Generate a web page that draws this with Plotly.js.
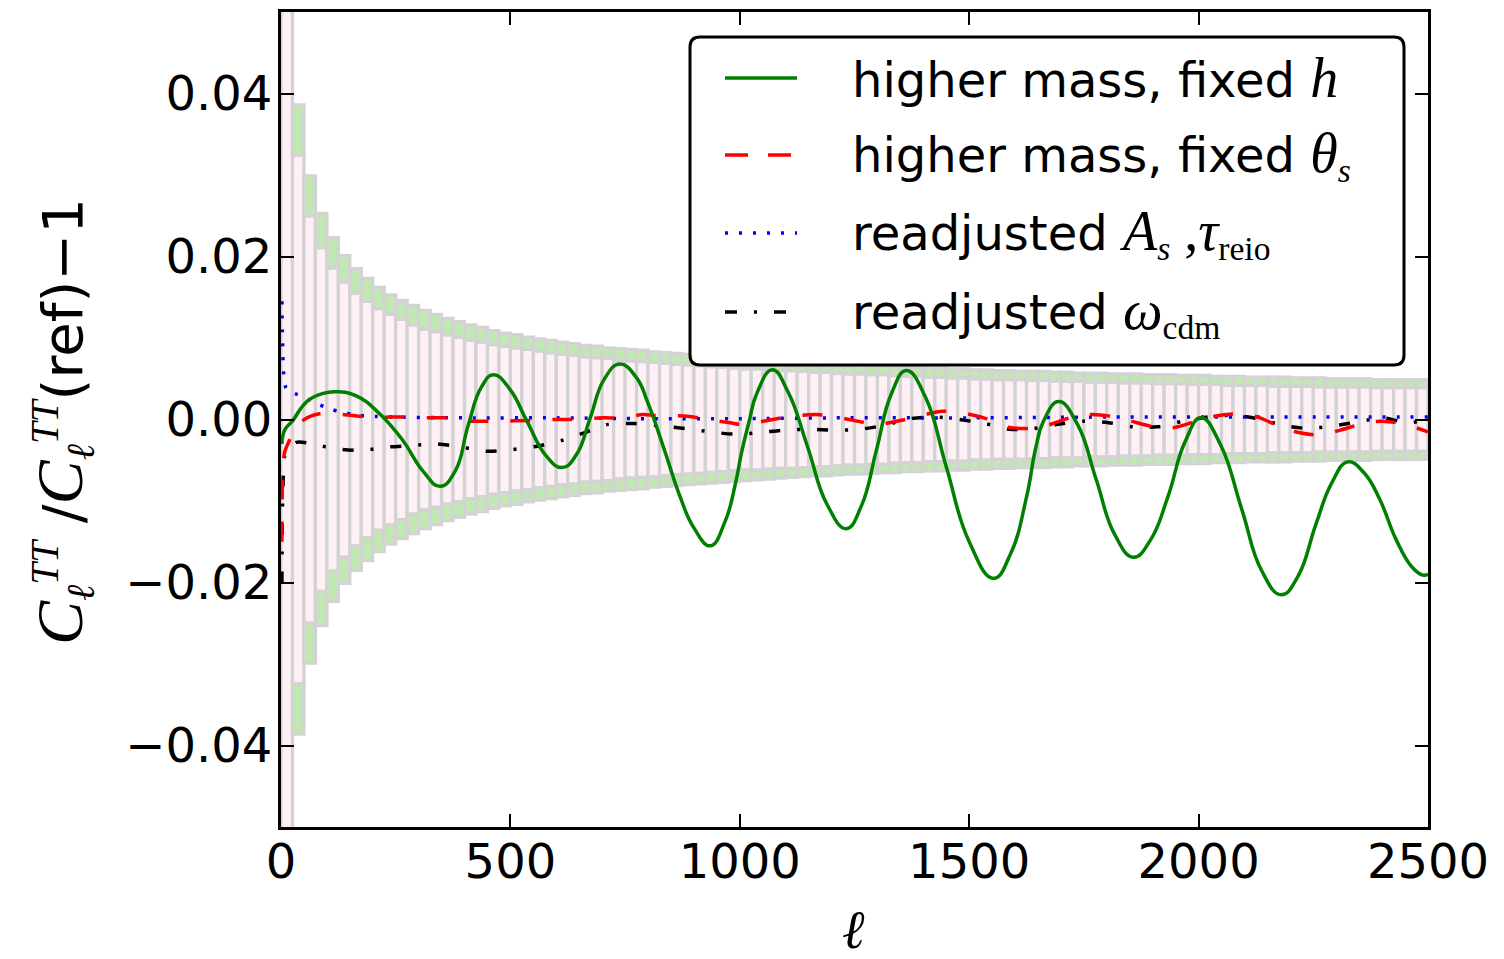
<!DOCTYPE html>
<html><head><meta charset="utf-8">
<script src="https://cdn.plot.ly/plotly-3.0.1.min.js"></script>
<style>html,body{margin:0;padding:0;background:#fff;} #chart{width:1504px;height:959px;}</style>
</head><body><div id="chart"></div>
<script>
// ---- data ----
const binWidth = 25;
// outer (total) error per 25-wide ell bin, bins starting at ell = 0
const outerErr = [0.110,0.0386,0.0299,0.0253,0.0223,0.0201,0.0185,0.0173,0.0162,0.0153,
0.0146,0.0140,0.0134,0.0129,0.0124,0.0120,0.0116,0.0113,0.0109,0.0106,
0.0104,0.0101,0.0099,0.0097,0.0095,0.0093,0.0091,0.0090,0.0088,0.0087,
0.0086,0.0085,0.0083,0.0082,0.0081,0.0080,0.0079,0.0078,0.0077,0.0076,
0.0075,0.0074,0.0073,0.0072,0.0071,0.0070,0.0069,0.0069,0.0068,0.0067,
0.0067,0.0066,0.0065,0.0065,0.0064,0.0064,0.0063,0.0063,0.0062,0.0062,
0.0061,0.0061,0.0060,0.0060,0.0059,0.0059,0.0059,0.0058,0.0058,0.0057,
0.0057,0.0057,0.0056,0.0056,0.0056,0.0055,0.0055,0.0055,0.0054,0.0054,
0.0054,0.0053,0.0053,0.0053,0.0052,0.0052,0.0052,0.0052,0.0051,0.0051,
0.0051,0.0050,0.0050,0.0050,0.0050,0.0049,0.0049,0.0049,0.0049,0.0049];
// inner error per bin
const innerErr = [0.100,0.0324,0.0250,0.0211,0.0186,0.0169,0.0155,0.0145,0.0136,0.0129,
0.0123,0.0116,0.0111,0.0108,0.0104,0.0101,0.0097,0.0095,0.0092,0.0090,
0.0088,0.0086,0.0084,0.0082,0.0080,0.0079,0.0077,0.0076,0.0075,0.0073,
0.0072,0.0071,0.0070,0.0069,0.0068,0.0067,0.0066,0.0065,0.0064,0.0063,
0.0062,0.0062,0.0061,0.0060,0.0060,0.0059,0.0058,0.0058,0.0057,0.0056,
0.0056,0.0055,0.0055,0.0054,0.0053,0.0053,0.0052,0.0052,0.0051,0.0051,
0.0050,0.0050,0.0049,0.0049,0.0049,0.0048,0.0048,0.0047,0.0047,0.0047,
0.0046,0.0046,0.0046,0.0045,0.0045,0.0045,0.0044,0.0044,0.0044,0.0043,
0.0043,0.0043,0.0042,0.0042,0.0042,0.0042,0.0041,0.0041,0.0041,0.0041,
0.0040,0.0040,0.0040,0.0040,0.0040,0.0039,0.0039,0.0039,0.0039,0.0039];

const greenL = [2,8,26,48,69,116,164,215,266,309,347,380,408,437,463,499,536,577,613,644,
674,704,738,774,800,836,870,900,936,968,990,1004,1020,1037,1071,1105,1148,1190,1232,1265,
1298,1330,1363,1405,1450,1500,1553,1590,1625,1645,1662,1695,1736,1777,1817,1858,1895,1933,1970,2005,
2047,2094,2137,2180,2216,2256,2290,2325,2360,2394,2431,2465,2489,2500];
const greenY = [-0.0030,-0.0013,-0.0001,0.0017,0.0027,0.0034,0.0029,0.0007,-0.0026,-0.0063,
-0.0082,-0.0063,-0.0007,0.0040,0.0055,0.0037,-0.0002,-0.0044,-0.0059,-0.0043,
0.0002,0.0049,0.0068,0.0052,0.0020,-0.0038,-0.0095,-0.0133,-0.0155,-0.0125,
-0.0080,-0.0040,-0.0003,0.0032,0.0061,0.0034,-0.0034,-0.0104,-0.0134,-0.0106,
-0.0037,0.0031,0.0060,0.0027,-0.0058,-0.0150,-0.0195,-0.0165,-0.0095,-0.0035,
-0.0002,0.0022,-0.0006,-0.0074,-0.0141,-0.0169,-0.0148,-0.0095,-0.0028,0.0002,
-0.0030,-0.0110,-0.0185,-0.0215,-0.0193,-0.0128,-0.0078,-0.0052,-0.0065,-0.0097,
-0.0148,-0.0181,-0.0191,-0.0190];

const redL = [2,4,8,18,30,48,84,135,193,266,324,360,411,469,550,600,629,701,745,789,
814,840,886,930,979,1000,1023,1072,1115,1167,1210,1257,1300,1352,1395,1442,1485,1537,1581,1631,
1671,1719,1762,1809,1853,1902,1945,1995,2035,2085,2129,2175,2218,2265,2309,2358,2401,2449,2500];
const redY = [-0.0150,-0.0060,-0.0040,-0.0026,-0.0012,-0.0001,0.0007,0.0006,0.0003,0.0003,
0.0002,0.0002,-0.0002,-0.0002,-0.0001,0.0000,0.0000,0.0002,0.0002,0.0006,
0.0005,0.0005,0.0004,0.0000,-0.0004,-0.0006,-0.0005,0.0000,0.0004,0.0006,
0.0003,-0.0002,-0.0006,-0.0001,0.0005,0.0010,0.0008,0.0001,-0.0009,-0.0011,
-0.0007,0.0002,0.0006,0.0004,-0.0002,-0.0009,-0.0010,-0.0002,0.0004,0.0007,
0.0003,-0.0008,-0.0016,-0.0019,-0.0013,-0.0005,-0.0002,-0.0006,-0.0015];

const blueL = [2,3,4,6,9,13,44,73,102,131,160,193,250,400,600,800,1000,1200,1500,1800,2100,2500];
const blueY = [0.0145,0.0110,0.0080,0.0055,0.0042,0.0036,0.0029,0.0021,0.0014,0.0009,
0.0006,0.0004,0.0003,0.0002,0.0002,0.0001,0.0001,0.0002,0.0002,0.0003,0.0003,0.0003];

const blackL = [2,3,5,8,18,33,62,77,120,175,229,284,338,395,447,502,556,611,662,712,
770,830,880,934,988,1043,1097,1152,1206,1261,1316,1370,1425,1479,1534,1588,1640,1693,1749,1804,
1857,1911,1967,2020,2075,2129,2184,2238,2292,2347,2401,2456,2500];
const blackY = [-0.0200,-0.0120,-0.0070,-0.0045,-0.0035,-0.0028,-0.0029,-0.0031,-0.0036,-0.0038,
-0.0034,-0.0032,-0.0030,-0.0034,-0.0039,-0.0037,-0.0033,-0.0026,-0.0016,-0.0006,
-0.0005,-0.0008,-0.0011,-0.0015,-0.0018,-0.0016,-0.0013,-0.0012,-0.0013,-0.0012,
-0.0007,0.0001,0.0003,0.0000,-0.0005,-0.0012,-0.0011,-0.0006,-0.0002,-0.0004,
-0.0009,-0.0009,-0.0002,0.0003,0.0005,0.0001,-0.0007,-0.0011,-0.0008,-0.0003,
0.0002,-0.0004,0.0000];

const SERIF = 'font-family:Liberation Serif;font-size:56px';
const legendLabels = [
  'higher mass, fixed <span style="' + SERIF + '"><i>h</i></span>',
  'higher mass, fixed <span style="' + SERIF + '"><i>θ</i></span><sub><span style="font-family:Liberation Serif"><i>s</i></span></sub>',
  'readjusted <span style="' + SERIF + '"><i>A</i></span><sub><span style="font-family:Liberation Serif"><i>s</i></span></sub><span style="' + SERIF + '"> ,<i>τ</i></span><sub><span style="font-family:Liberation Serif">reio</span></sub>',
  'readjusted <span style="' + SERIF + '"><i>ω</i></span><sub><span style="font-family:Liberation Serif">cdm</span></sub>'
];
const xTicks = [0,500,1000,1500,2000,2500];
const yTicks = [-0.04,-0.02,0,0.02,0.04];

// ---- geometry helpers (layout only) ----
const L = 281, R = 1428, T = 12, B = 827;
const W = 1504, H = 959;
const px = x => (x - L) / (R - L);
const py = y => (B - y) / (B - T);

const centers = outerErr.map((_, i) => binWidth * i + binWidth / 2);
const PINK = '#fff0f5', LGREEN = '#c1e8b2', GREY = '#d3d3d3';

const traces = [
  {type:'bar', x:centers, y:innerErr.map(v=>2*v), base:innerErr.map(v=>-v), width:binWidth,
   marker:{color:PINK, line:{color:GREY, width:3.3}}, hoverinfo:'skip', showlegend:false},
  {type:'bar', x:centers, y:outerErr.map((v,i)=>v-innerErr[i]), base:innerErr, width:binWidth,
   marker:{color:LGREEN, line:{color:GREY, width:3.3}}, hoverinfo:'skip', showlegend:false},
  {type:'bar', x:centers, y:outerErr.map((v,i)=>v-innerErr[i]), base:outerErr.map(v=>-v), width:binWidth,
   marker:{color:LGREEN, line:{color:GREY, width:3.3}}, hoverinfo:'skip', showlegend:false},
  {type:'scatter', mode:'lines', x:blackL, y:blackY, line:{color:'black', width:3.5, dash:'11px,17px,3px,17px', shape:'spline', smoothing:0.8}, showlegend:false},
  {type:'scatter', mode:'lines', x:blueL, y:blueY, line:{color:'blue', width:3.5, dash:'3px,11px', shape:'spline', smoothing:0.8}, showlegend:false},
  {type:'scatter', mode:'lines', x:redL, y:redY, line:{color:'red', width:3.5, dash:'20px,22px', shape:'spline', smoothing:0.8}, showlegend:false},
  {type:'scatter', mode:'lines', x:greenL, y:greenY, line:{color:'green', width:3.5, shape:'spline', smoothing:1.3}, showlegend:false}
];

// legend box (rounded)
const lx0 = px(690), lx1 = px(1404), ly0 = py(365), ly1 = py(37);
const rx = 10/(R-L), ry = 10/(B-T);
const boxPath = `M ${lx0+rx},${ly1} L ${lx1-rx},${ly1} Q ${lx1},${ly1} ${lx1},${ly1-ry} L ${lx1},${ly0+ry} Q ${lx1},${ly0} ${lx1-rx},${ly0} L ${lx0+rx},${ly0} Q ${lx0},${ly0} ${lx0},${ly0+ry} L ${lx0},${ly1-ry} Q ${lx0},${ly1} ${lx0+rx},${ly1} Z`;
const rowY = [78, 155, 233, 312];
const sample = [
  {color:'green', dash:'solid'},
  {color:'red', dash:'23px,20px'},
  {color:'blue', dash:'3px,11px'},
  {color:'black', dash:'12px,17px,3px,17px'}
];
const shapes = [
  {type:'path', xref:'paper', yref:'paper', path:boxPath, fillcolor:'white', line:{color:'black', width:3}, layer:'above'}
];
sample.forEach((s,i)=>{
  shapes.push({type:'line', xref:'paper', yref:'paper', x0:px(725), x1:px(797), y0:py(rowY[i]), y1:py(rowY[i]),
    line:{color:s.color, width:3.5, dash:s.dash}, layer:'above'});
});

const annotations = legendLabels.map((t,i)=>({
  text:t, xref:'paper', yref:'paper', x:px(850), y:py(rowY[i]), xanchor:'left', yanchor:'middle',
  showarrow:false, font:{family:'DejaVu Sans', size:48, color:'black'}
}));
const CS = 'font-family:Liberation Serif;font-size:66px';
annotations.push({
  text:'<span style="' + CS + '"><i>C</i></span><sub><span style="font-family:Liberation Serif"><i>ℓ</i></span></sub><sup><span style="font-family:Liberation Serif"><i>TT</i></span></sup> /<span style="' + CS + '"><i>C</i></span><sub><span style="font-family:Liberation Serif"><i>ℓ</i></span></sub><sup><span style="font-family:Liberation Serif"><i>TT</i></span></sup>(ref)−1',
  xref:'paper', yref:'paper', x:px(62), y:py(422), xanchor:'center', yanchor:'middle', textangle:-90,
  showarrow:false, font:{family:'DejaVu Sans', size:56, color:'black'}
});
annotations.push({
  text:'<i>ℓ</i>', xref:'paper', yref:'paper', x:px(853), y:py(930), xanchor:'center', yanchor:'middle',
  showarrow:false, font:{family:'Liberation Serif', size:54, color:'black'}
});

const axisCommon = {showline:true, linecolor:'black', linewidth:3, mirror:'ticks', ticks:'inside',
  ticklen:13, tickwidth:2, tickcolor:'black', showgrid:false, zeroline:false,
  tickfont:{family:'DejaVu Sans', size:48, color:'black'}};

const layout = {
  width:W, height:H, margin:{l:L, r:W-R, t:T, b:H-B}, paper_bgcolor:'white', plot_bgcolor:'white',
  barmode:'overlay', bargap:0, showlegend:false,
  xaxis:Object.assign({}, axisCommon, {range:[0,2500], tickvals:xTicks, ticktext:xTicks.map(String), ticklabelstandoff:-10}),
  yaxis:Object.assign({}, axisCommon, {range:[-0.05,0.05], tickvals:yTicks, tickformat:'.2f', ticklabelstandoff:-4}),
  shapes:shapes, annotations:annotations
};
Plotly.newPlot('chart', traces, layout, {displayModeBar:false, staticPlot:true});
</script></body></html>
